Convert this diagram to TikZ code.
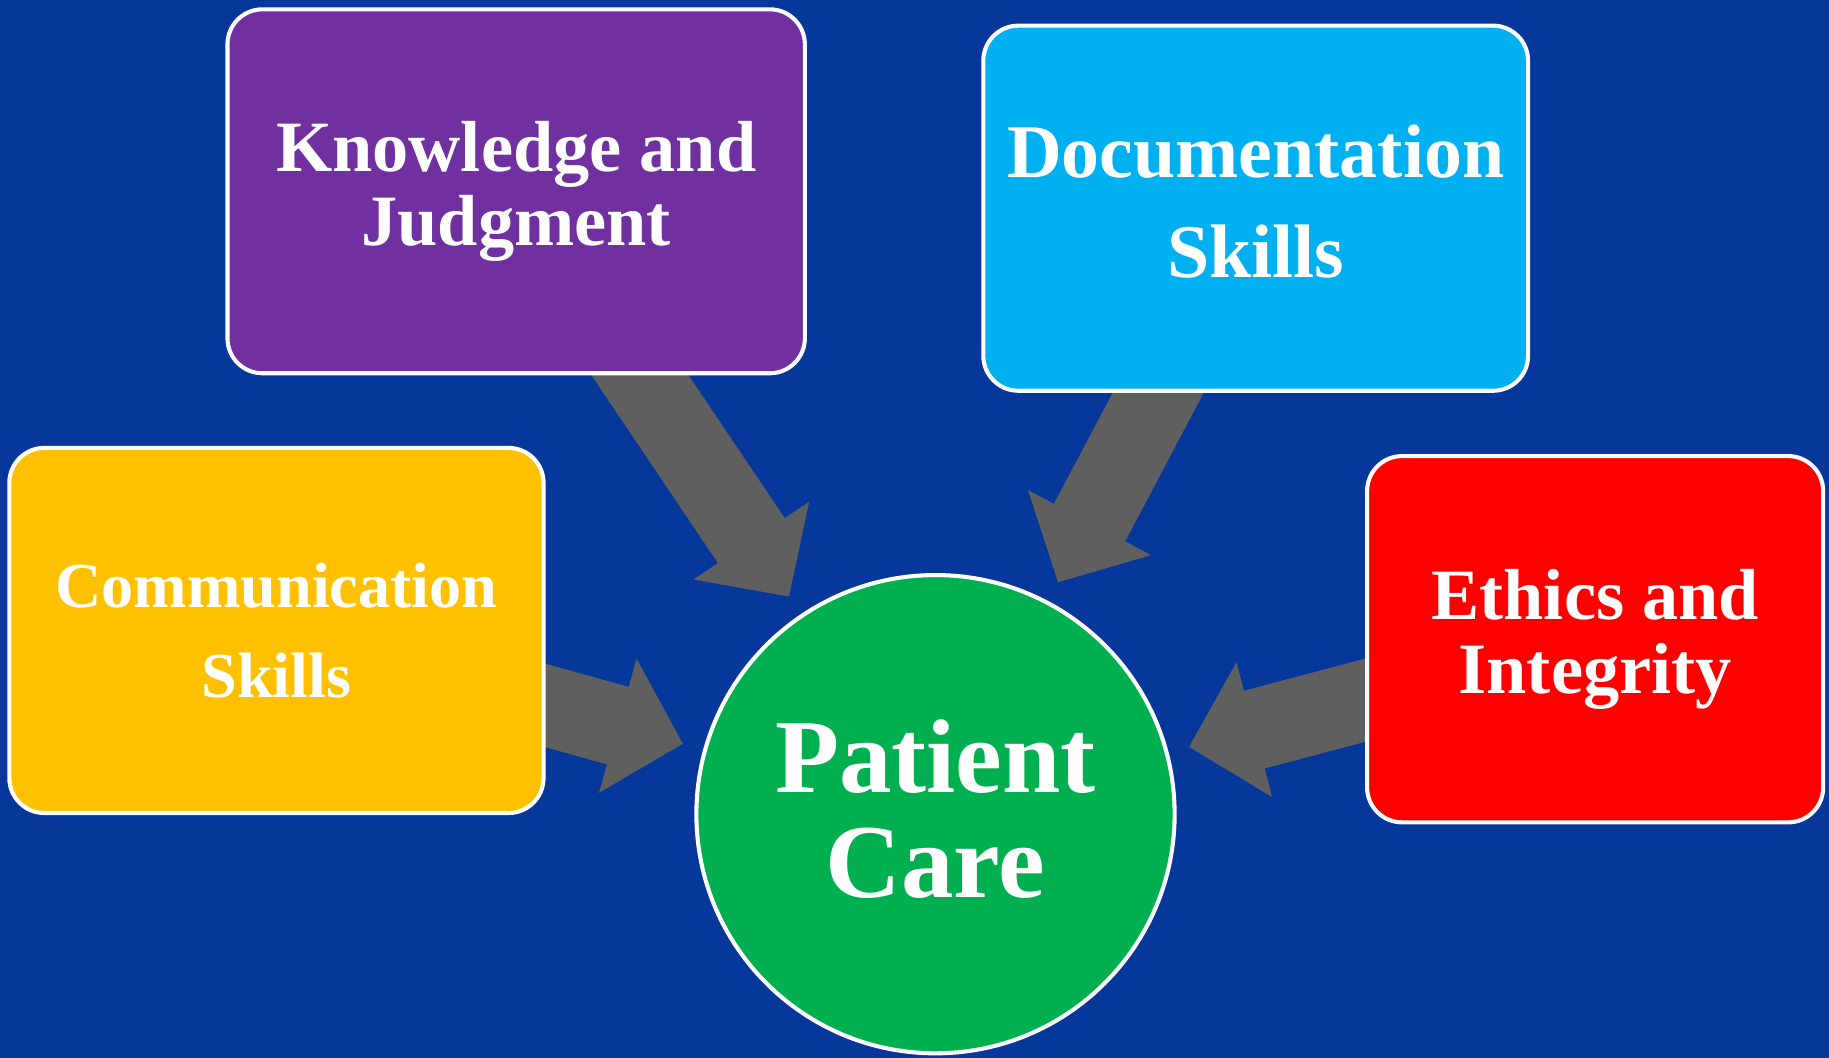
\documentclass[tikz,border=0pt]{standalone}
\usepackage{fontspec}
\setmainfont{Liberation Serif}
\usetikzlibrary{arrows.meta}
\definecolor{bgblue}{HTML}{06379A}
\definecolor{knowpurple}{HTML}{7030A0}
\definecolor{doccyan}{HTML}{00B0F0}
\definecolor{commyellow}{HTML}{FFC000}
\definecolor{ethicred}{HTML}{FF0000}
\definecolor{caregreen}{HTML}{00B050}
\definecolor{arrowgray}{HTML}{5F5F5F}
\pgfdeclarelayer{back}
\pgfsetlayers{back,main}
\tikzset{
  topic/.style={draw=white, line width=3.5pt, rounded corners=30pt, text=white,
    font=\bfseries\fontsize{62}{63}\selectfont, align=center, inner sep=0pt},
  hub/.style={circle, draw=white, line width=3.5pt, fill=caregreen, text=white,
    minimum size=410pt, inner sep=0pt, font=\bfseries\fontsize{90}{90}\selectfont, align=center},
  bigarrow/.style={draw=arrowgray, line width=69pt, -{Triangle[length=58pt, width=116pt]}, shorten >=18pt}
}
\begin{document}
\begin{tikzpicture}[x=1pt, y=-1pt]
  \useasboundingbox (0,0) rectangle (1568,907);
  % the four skills
  \node[topic, fill=knowpurple, minimum width=495pt, minimum height=312pt] (know) at (442.5,164) {Knowledge and\\Judgment};
  \node[topic, fill=doccyan, minimum width=467pt, minimum height=313pt,
    font=\bfseries\fontsize{65}{85}\selectfont, text depth=12pt] (doc) at (1076.5,178.5) {Documentation\\Skills};
  \node[topic, fill=commyellow, minimum width=458pt, minimum height=313pt,
    font=\bfseries\fontsize{55}{77}\selectfont] (comm) at (237,540.5) {Communication\\Skills};
  \node[topic, fill=ethicred, minimum width=391pt, minimum height=314pt] (ethic) at (1367.5,548) {Ethics and\\Integrity};
  % centre
  \node[hub, text depth=10pt] (care) at (802,698) {Patient\\Care};
  \begin{pgfonlayer}{back}
    \fill[bgblue] (0,0) rectangle (1568,907);
    \foreach \src in {know,doc,comm,ethic}
      \draw[bigarrow] (\src.center) -- (care);
  \end{pgfonlayer}
\end{tikzpicture}
\end{document}
